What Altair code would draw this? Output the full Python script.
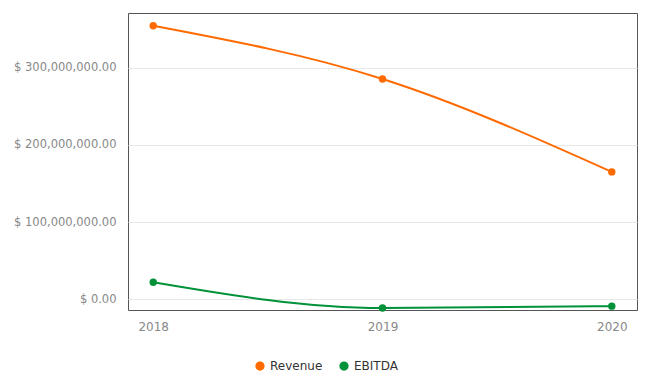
import altair as alt
import pandas as pd

years = ["2018", "2019", "2020"]
revenue = [354500000, 285500000, 165000000]
ebitda = [22000000, -11500000, -9000000]
series = ["Revenue", "EBITDA"]
colors = ["#ff6a00", "#009139"]

rows = []
for y, r, e in zip(years, revenue, ebitda):
    rows.append({"year": y, "series": "Revenue", "value": r})
    rows.append({"year": y, "series": "EBITDA", "value": e})
df = pd.DataFrame(rows)

font = "DejaVu Sans"

x = alt.X("year:O", title=None, sort=years,
          scale=alt.Scale(padding=0.11),
          axis=alt.Axis(labelAngle=0, labelColor="#888888", labelFontSize=12,
                        labelFont=font, ticks=False, domain=False, grid=False,
                        labelPadding=11))
y = alt.Y("value:Q", title=None,
          scale=alt.Scale(domain=[-14000000, 371000000], nice=False, zero=False),
          axis=alt.Axis(values=[0, 100000000, 200000000, 300000000],
                        labelExpr="'$ ' + format(datum.value, ',.2f')",
                        labelColor="#888888", labelFontSize=11.5, labelFont=font,
                        ticks=False, domain=False, gridColor="#e8e8e8",
                        labelPadding=12))
color = alt.Color("series:N", title=None,
                  scale=alt.Scale(domain=series, range=colors),
                  legend=alt.Legend(orient="none", direction="horizontal",
                                    legendX=126, legendY=347,
                                    symbolType="circle", symbolSize=60,
                                    labelColor="#333333", labelFontSize=12,
                                    labelFont=font, columnPadding=14))

base = alt.Chart(df).encode(x=x, y=y, color=color)
lines = base.mark_line(interpolate="monotone", strokeWidth=2)
points = base.mark_point(filled=True, size=55, opacity=1)

chart = alt.layer(lines, points).properties(
    width=509, height=297, background="white"
).configure_view(stroke="#555555", strokeWidth=1)

chart.save("out.html", embed_options={"renderer": "svg", "actions": False})
